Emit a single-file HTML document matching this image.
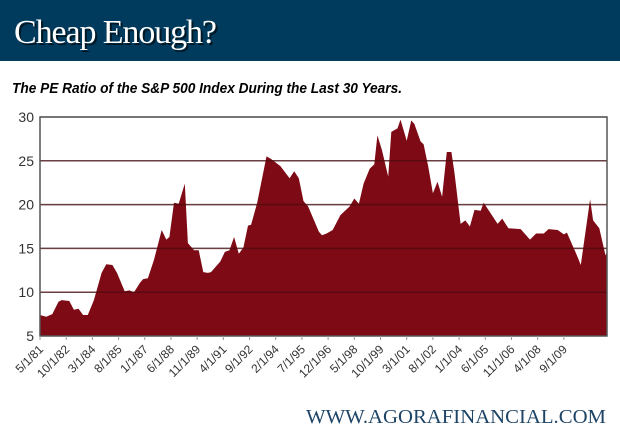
<!DOCTYPE html>
<html><head><meta charset="utf-8"><style>
body{margin:0;width:620px;height:448px;overflow:hidden;background:#fff}
svg{display:block}
</style></head><body>
<svg width="620" height="448" xmlns="http://www.w3.org/2000/svg">
<rect x="0" y="0" width="620" height="61" fill="#003a5c"/>
<text x="16" y="45" fill="#000" opacity="0.6" font-family="Liberation Serif, serif" font-size="34" textLength="203">Cheap Enough?</text>
<text x="14" y="43" fill="#fff" font-family="Liberation Serif, serif" font-size="34" textLength="203">Cheap Enough?</text>
<text x="12" y="93" fill="#000" font-family="Liberation Sans, sans-serif" font-size="15" font-weight="bold" font-style="italic" textLength="390" lengthAdjust="spacingAndGlyphs">The PE Ratio of the S&amp;P 500 Index During the Last 30 Years.</text>
<g id="plot"></g>
<text x="606" y="423" text-anchor="end" fill="#1e4466" font-family="Liberation Serif, serif" font-size="20" textLength="300" lengthAdjust="spacingAndGlyphs">WWW.AGORAFINANCIAL.COM</text>
</svg>
<script>
const months=[0,4,8,12,14,19,22,25,28,31,35,40,43,47,50,55,58,61,65,67,70,74,79,82,84,87,90,94,96,100,103,106,109,111,117,120,123,126,129,132,135,137,141,147,150,156,162,165,168,171,174,181,183,186,190,195,201,204,207,210,214,217,219,222,226,228,232,234,238,241,243,247,249,252,255,258,261,264,267,269,273,276,279,282,286,288,297,300,304,312,318,322,327,330,336,340,342,348,351,357,359,363,367,368];
const peValues=[7.4,7.2,7.5,8.9,9.1,9.0,8.0,8.1,7.4,7.4,9.1,12.2,13.2,13.1,12.2,10.1,10.2,10.0,11.1,11.5,11.6,13.7,17.1,16.0,16.3,20.2,20.1,22.4,15.6,14.8,14.8,12.3,12.2,12.3,13.5,14.6,14.8,16.3,14.4,15.1,17.6,17.7,20.2,25.5,25.2,24.4,23.0,23.8,23.0,20.4,19.8,16.9,16.5,16.7,17.1,18.8,19.8,20.7,20.1,22.4,24.1,24.6,27.9,26.2,23.2,28.3,28.7,29.7,27.3,29.6,29.2,27.2,26.9,24.3,21.3,22.6,20.9,26.0,26.0,23.6,17.8,18.2,17.5,19.4,19.3,20.2,17.8,18.4,17.3,17.2,16.0,16.7,16.7,17.2,17.1,16.6,16.8,14.4,13.1,20.6,18.2,17.3,14.2,14.6];
const yTicks=[5,10,15,20,25,30];
const xLabels=["5/1/81","10/1/82","3/1/84","8/1/85","1/1/87","6/1/88","11/1/89","4/1/91","9/1/92","2/1/94","7/1/95","12/1/96","5/1/98","10/1/99","3/1/01","8/1/02","1/1/04","6/1/05","11/1/06","4/1/08","9/1/09"];
const tickStep=17, maxMonth=368;
const X0=40,X1=607,Y0=336,Y1=117;
const xs=m=>X0+(m/maxMonth)*(X1-X0);
const ys=v=>Y0-(v-5)/25*(Y0-Y1);
const NS="http://www.w3.org/2000/svg";
const g=document.getElementById('plot');
function mk(t,a){const e=document.createElementNS(NS,t);for(const k in a)e.setAttribute(k,a[k]);g.appendChild(e);return e;}
yTicks.forEach(v=>{
  if(v>5){const l=mk('line',{x1:X0,x2:X1,y1:ys(v),y2:ys(v),stroke:'#bbb','stroke-width':1.5});
  
  }
  const t=mk('text',{x:X0-6,y:ys(v)+5,'text-anchor':'end','font-family':'Liberation Sans, sans-serif','font-size':14,fill:'#333'});
  t.textContent=v;
  
  
});
let d='M'+xs(months[0])+','+Y0;
months.forEach((m,i)=>{d+=' L'+xs(m).toFixed(1)+','+ys(peValues[i]).toFixed(1);});
d+=' L'+xs(months[months.length-1])+','+Y0+' Z';
const area=mk('path',{d:d,fill:'#7d0a14'});


yTicks.forEach(v=>{if(v>5&&v<30){const l=mk('line',{x1:X0,x2:X1,y1:ys(v),y2:ys(v),stroke:'#4a0a0e','stroke-width':1.5,opacity:0.7});

}});
const frame=mk('rect',{x:X0,y:Y1,width:X1-X0,height:Y0-Y1,fill:'none',stroke:'#555','stroke-width':1.5});


xLabels.forEach((lab,i)=>{
  const x=xs(i*tickStep);
  const tk=mk('line',{x1:x,x2:x,y1:Y0,y2:Y0+4,stroke:'#999'});
  
  
  const t=mk('text',{x:x+4,y:Y0+14,'text-anchor':'end','font-family':'Liberation Sans, sans-serif','font-size':12,fill:'#333',transform:'rotate(-45 '+(x+4)+' '+(Y0+14)+')'});
  t.textContent=lab;
  
  
});
</script>
</body></html>
